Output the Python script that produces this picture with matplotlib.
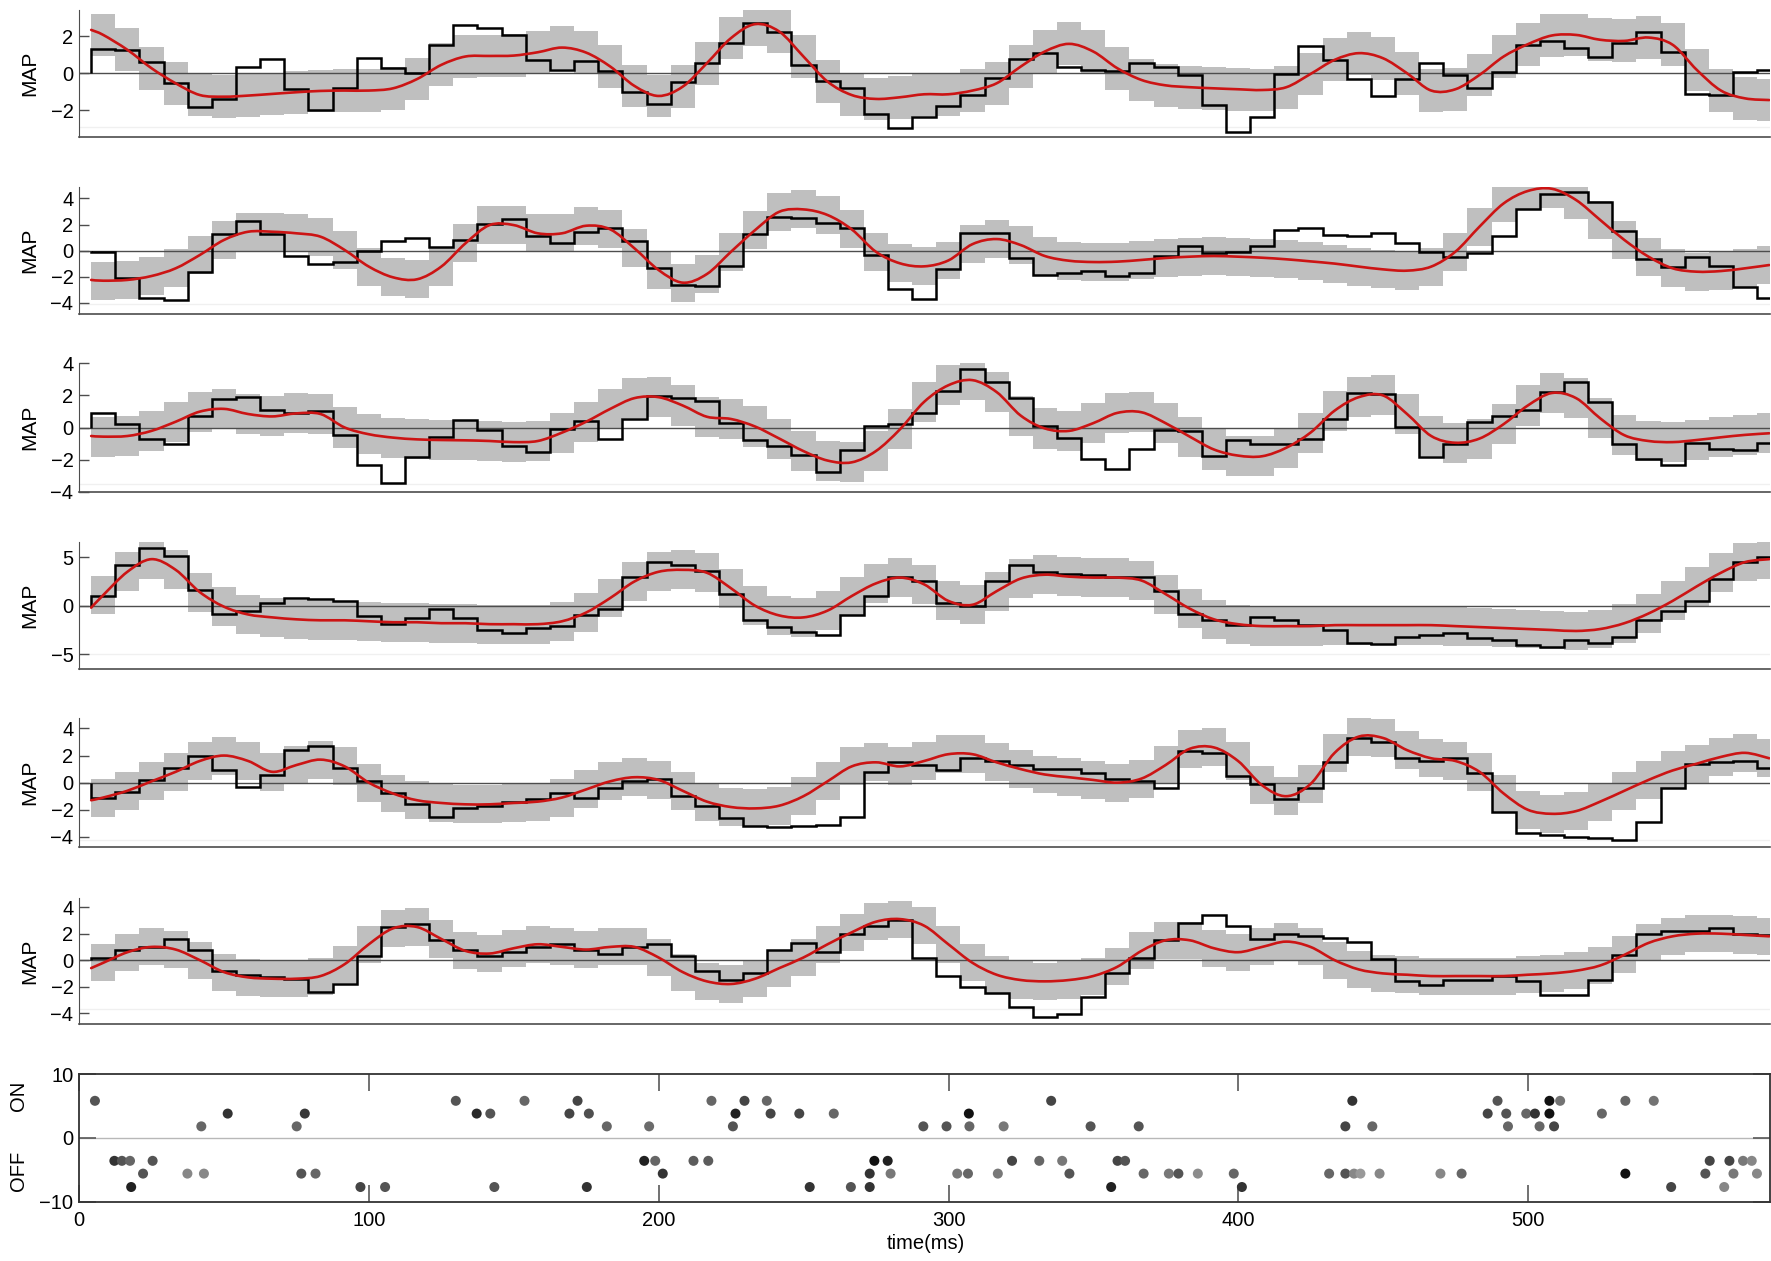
import numpy as np
import matplotlib
matplotlib.use("Agg")
import matplotlib.pyplot as plt
from matplotlib.path import Path
from matplotlib.patches import PathPatch

plt.rcParams['font.family'] = ['Liberation Sans', 'DejaVu Sans']

#
# binned MAP data: black = binned response, red = smooth estimate
#
BIN = 8.33
T0 = 4.2
NBIN = 70

black1 = [1.31, 1.26, 0.59, -0.52, -1.83, -1.40, 0.36, 0.75, -0.86, -2.0,
          -0.77, 0.84, 0.27, 0.0, 1.54, 2.57, 2.42, 2.06, 0.70, 0.20,
          0.65, 0.14, -0.99, -1.63, -0.47, 0.54, 1.65, 2.69, 2.24, 0.45,
          -0.40, -0.81, -2.19, -2.93, -2.33, -1.78, -1.17, -0.23, 0.77, 1.11,
          0.32, 0.18, 0.13, 0.54, 0.31, -0.11, -1.71, -3.14, -2.37, -0.04,
          1.44, 0.72, -0.32, -1.22, -0.29, 0.54, -0.07, -0.81, 0.07, 1.54,
          1.76, 1.38, 0.90, 1.60, 2.24, 1.13, -1.13, -1.18, 0.05, 0.20]
red1 = [2.33, 2.06, 1.26, 0.27, -0.54, -1.17, -1.26, -1.2, -1.11, -1.02, -0.95,
        -0.93, -0.93, -0.81, -0.31, 0.45, 0.90, 0.93, 0.95, 1.13, 1.38,
        1.11, 0.36, -0.68, -1.22, -0.72, 0.54, 1.89, 2.64, 2.24, 0.9,
        -0.45, -1.17, -1.38, -1.29, -1.13, -1.13, -0.93, -0.54, 0.36, 1.17,
        1.58, 1.17, 0.27, -0.36, -0.65, -0.75, -0.81, -0.86, -0.9, -0.75,
        -0.04, 0.72, 1.08, 0.81, 0.0, -0.93, -0.86, -0.09, 0.9, 1.56,
        2.03, 2.06, 1.8, 1.74, 1.92, 1.53, 0.18, -0.93, -1.35, -1.44]

black2 = [-0.13, -2.12, -3.65, -3.75, -1.66, 1.25, 2.27, 1.25, -0.43, -1.05,
          -0.84, -0.03, 0.77, 0.94, 0.26, 0.82, 2.02, 2.40, 1.12, 0.56,
          1.43, 1.73, 0.71, -1.35, -2.60, -2.70, -1.17, 1.28, 2.60, 2.53,
          2.14, 1.76, -0.33, -2.93, -3.67, -1.43, 1.33, 1.33, -0.54, -1.89,
          -1.68, -1.56, -1.91, -1.68, -0.41, 0.36, -0.20, -0.08, 0.36, 1.58,
          1.76, 1.20, 1.12, 1.38, 0.56, -0.08, -0.51, -0.20, 1.15, 3.16,
          4.31, 4.46, 3.75, 1.53, -0.66, -1.22, -0.51, -1.17, -2.81, -3.60]
red2 = [-2.24, -2.3, -2.24, -1.94, -1.35, -0.33, 0.82, 1.45, 1.45, 1.33, 1.07,
        0.05, -1.22, -2.04, -2.19, -1.22, 0.56, 1.96, 1.96, 1.33, 1.33,
        1.91, 1.63, 0.18, -1.48, -2.45, -1.79, -0.08, 1.58, 2.98, 3.16,
        2.73, 1.63, -0.08, -0.97, -1.2, -0.75, 0.5, 0.89, 0.43, -0.41,
        -0.77, -0.87, -0.84, -0.71, -0.56, -0.46, -0.41, -0.46, -0.54, -0.66,
        -0.82, -0.99, -1.22, -1.43, -1.53, -1.22, -0.08, 1.84, 3.62, 4.57,
        4.74, 3.88, 2.35, 0.82, -0.46, -1.35, -1.61, -1.56, -1.35, -1.1]

black3 = [0.91, 0.21, -0.74, -1.05, 0.74, 1.79, 1.89, 1.12, 0.88, 1.01,
          -0.46, -2.32, -3.43, -1.83, -0.57, 0.48, -0.15, -1.16, -1.54, -0.11,
          0.40, -0.69, 0.53, 1.96, 1.85, 1.62, 0.27, -0.78, -1.16, -1.71,
          -2.78, -1.43, 0.08, 0.21, 0.93, 2.25, 3.64, 2.84, 1.83, 0.11,
          -0.63, -1.96, -2.57, -1.37, -0.15, -0.21, -1.75, -0.78, -1.05, -1.01,
          -0.69, 0.53, 2.15, 2.11, 0.04, -1.83, -1.01, 0.32, 0.69, 1.09,
          2.21, 2.84, 1.58, -1.05, -1.94, -2.32, -0.99, -1.31, -1.43, -0.99]
red3 = [-0.53, -0.57, -0.53, -0.21, 0.36, 0.99, 1.16, 0.84, 0.69, 0.88, 0.84,
        0.0, -0.42, -0.63, -0.74, -0.78, -0.8, -0.84, -0.91, -0.84, -0.32,
        0.36, 1.16, 1.83, 1.89, 1.37, 0.67, 0.53, 0.06, -0.69, -1.47,
        -2.06, -2.17, -1.47, -0.11, 1.6, 2.63, 2.95, 2.21, 0.74, -0.06,
        -0.21, 0.27, 0.91, 0.95, 0.27, -0.57, -1.37, -1.75, -1.79, -1.26,
        -0.32, 1.05, 1.89, 2.0, 0.84, -0.53, -0.95, -0.69, 0.21, 1.37,
        2.15, 1.83, 0.57, -0.48, -0.84, -0.91, -0.78, -0.61, -0.46, -0.36]

black4 = [1.0, 4.2, 5.9, 5.1, 1.6, -0.8, -0.5, 0.3, 0.75, 0.7,
          0.5, -1.1, -1.9, -1.3, -0.3, -1.3, -2.5, -2.8, -2.3, -2.1,
          -1.0, -0.3, 3.0, 4.5, 4.2, 3.6, 1.2, -1.5, -2.2, -2.7,
          -3.0, -1.0, 1.0, 3.0, 2.5, 0.3, 0.0, 2.5, 4.2, 3.5,
          3.3, 3.2, 3.0, 3.0, 1.5, -0.8, -1.5, -2.0, -1.2, -1.5,
          -2.0, -2.5, -3.8, -3.9, -3.2, -3.0, -2.8, -3.3, -3.5, -4.0,
          -4.3, -3.5, -3.8, -3.2, -1.5, -0.5, 0.5, 2.8, 4.5, 5.0]
red4 = [-0.2, 1.1, 3.5, 4.8, 3.7, 1.4, -0.1, -0.9, -1.2, -1.4, -1.5,
        -1.5, -1.6, -1.7, -1.7, -1.8, -1.8, -1.9, -1.9, -1.9, -1.6,
        -0.7, 0.8, 2.5, 3.5, 3.7, 3.4, 1.8, 0.0, -1.0, -1.2,
        -0.5, 1.0, 2.3, 2.9, 2.2, 0.5, 0.1, 1.5, 2.8, 3.2,
        3.0, 2.9, 2.9, 2.6, 1.2, -0.3, -1.4, -1.9, -2.1, -2.1,
        -2.1, -2.0, -2.0, -2.0, -2.0, -2.0, -2.1, -2.2, -2.3, -2.4,
        -2.5, -2.6, -2.4, -1.8, -0.8, 0.5, 2.0, 3.4, 4.5, 4.8]

black5 = [-1.1, -0.7, 0.2, 1.1, 2.0, 0.9, -0.3, 0.6, 2.4, 2.7,
          1.1, 0.1, -0.8, -1.6, -2.5, -1.9, -1.7, -1.4, -1.2, -0.8,
          -1.1, -0.4, 0.1, 0.3, -1.0, -1.7, -2.6, -3.2, -3.3, -3.2,
          -3.1, -2.5, 0.8, 1.5, 1.3, 0.9, 1.8, 1.6, 1.3, 1.0,
          1.0, 0.7, 0.3, 0.1, -0.4, 2.3, 2.2, 0.5, -0.1, -1.2,
          -0.4, 1.5, 3.3, 3.0, 1.8, 1.6, 1.8, 0.7, -2.2, -3.7,
          -3.9, -4.0, -4.1, -4.2, -2.9, -0.4, 1.4, 1.5, 1.6, 1.1]
red5 = [-1.3, -1.1, -0.6, 0.1, 0.8, 1.6, 2.0, 1.6, 0.8, 1.3, 1.7,
        1.2, 0.0, -0.8, -1.3, -1.5, -1.6, -1.6, -1.5, -1.4, -1.1,
        -0.5, 0.1, 0.4, 0.2, -0.6, -1.4, -1.8, -1.9, -1.7, -1.0,
        0.1, 1.2, 1.5, 1.2, 1.6, 2.1, 2.1, 1.5, 1.0, 0.6,
        0.4, 0.2, 0.0, 0.3, 1.3, 2.5, 2.6, 1.6, -0.2, -1.0,
        -0.1, 2.2, 3.4, 3.3, 2.4, 1.8, 1.6, 0.8, -0.8, -2.0,
        -2.3, -2.1, -1.4, -0.6, 0.2, 0.9, 1.4, 1.9, 2.2, 1.8]

black6 = [0.2, 0.8, 1.0, 1.6, 0.8, -0.8, -1.1, -1.3, -1.4, -2.4,
          -1.8, 0.3, 2.5, 2.7, 1.5, 0.8, 0.3, 0.6, 1.0, 1.2,
          0.8, 0.5, 1.0, 1.2, 0.3, -0.8, -1.5, -1.0, 0.8, 1.3,
          0.6, 2.0, 2.6, 3.0, 0.2, -1.2, -2.0, -2.5, -3.5, -4.3,
          -4.1, -2.8, -1.0, 0.2, 1.5, 2.8, 3.4, 2.6, 1.6, 2.0,
          1.8, 1.7, 1.4, 0.1, -1.6, -1.9, -1.5, -1.5, -1.2, -1.6,
          -2.6, -2.6, -1.5, 0.4, 2.0, 2.2, 2.2, 2.4, 2.0, 1.9]
red6 = [-0.6, -0.2, 0.6, 1.0, 0.8, 0.0, -0.9, -1.3, -1.4, -1.4, -1.2,
        -0.3, 1.2, 2.4, 2.5, 1.6, 0.7, 0.5, 0.9, 1.2, 1.0,
        0.8, 1.0, 1.0, 0.2, -0.9, -1.6, -1.8, -1.4, -0.6, 0.2,
        1.2, 2.1, 2.9, 3.1, 2.6, 1.2, -0.2, -1.1, -1.5, -1.6,
        -1.5, -1.2, -0.5, 0.7, 1.5, 1.5, 0.9, 0.6, 1.0, 1.4,
        1.0, 0.0, -0.7, -1.0, -1.1, -1.2, -1.2, -1.2, -1.2, -1.1,
        -1.0, -0.8, -0.4, 0.4, 1.3, 1.8, 2.0, 2.0, 1.9, 1.8]

blacks = [black1, black2, black3, black4, black5, black6]
reds = [red1, red2, red3, red4, red5, red6]
band_hw = [1.15, 1.45, 1.25, 2.0, 1.4, 1.4]
floor_line = [-2.87, -4.1, -3.54, -4.97, -4.25, -3.7]
ylims = [(-3.41, 3.4), (-4.85, 4.9), (-4.0, 4.0), (-6.55, 6.6), (-4.75, 4.75), (-4.85, 4.7)]
yticks = [[-2, 0, 2], [-4, -2, 0, 2, 4], [-4, -2, 0, 2, 4], [-5, 0, 5],
          [-4, -2, 0, 2, 4], [-4, -2, 0, 2, 4]]

# spike raster: rows and (time, gray level) of each dot
row_levels = [5.8, 3.8, 1.8, -3.6, -5.6, -7.7]
row_times = [
    [5.5, 130, 153.7, 172, 218.2, 229.6, 237.3, 335.4, 439.3, 489.4, 507.3, 511, 533.5, 543.3],
    [51.3, 77.9, 137.2, 141.9, 169.2, 175.9, 226.5, 238.6, 248.5, 260.4, 307, 486, 492.4,
     499.3, 502.3, 507.3, 525.4],
    [42.2, 75.1, 182.1, 196.7, 225.6, 291.3, 299.3, 307.2, 319, 349, 365.6, 436.9, 446.2,
     493, 503.9, 508.9],
    [12.2, 14.8, 17.6, 25.4, 195, 198.8, 212, 217.1, 274.4, 279, 321.9, 331.3, 339.2,
     358.3, 360.9, 562.6, 569.4, 574.1, 577.1],
    [22.1, 37.4, 43.1, 76.7, 81.6, 201.4, 272.8, 280, 303, 306.7, 317, 341.7, 367.3, 376,
     379.3, 386, 398.4, 431.3, 436.9, 439.9, 442.1, 448.7, 469.7, 477, 533.5, 561.1, 570.8, 578.9],
    [18, 97.1, 105.6, 143.3, 175.2, 252.1, 266.3, 272.8, 356.1, 401.2, 549.3, 567.6],
]
row_grays = [
    [.33, .33, .4, .27, .4, .27, .4, .27, .2, .33, .07, .45, .4, .45],
    [.2, .22, .16, .33, .27, .31, .13, .27, .27, .4, .07, .27, .33, .4, .2, .07, .4],
    [.4, .4, .4, .42, .33, .33, .33, .4, .47, .33, .33, .27, .4, .4, .4, .27],
    [.2, .33, .4, .33, .13, .4, .36, .36, .07, .13, .27, .4, .47, .27, .33, .27, .27, .47, .53],
    [.33, .53, .53, .33, .4, .2, .2, .47, .47, .4, .47, .33, .4, .47, .33, .55, .4, .4, .33,
     .53, .6, .53, .53, .4, .07, .33, .47, .53],
    [.13, .27, .33, .33, .2, .2, .33, .2, .13, .2, .27, .53],
]

edges = T0 + BIN * np.arange(NBIN + 1)
centers = edges[:-1] + BIN / 2
red_x = np.r_[edges[0], centers]
XMAX = 583.4
FS = 14.5


def smooth_path(x, y):
    # catmull-rom through the read points, drawn as bezier segments
    p = np.column_stack([x, y])
    q = np.vstack([p[0], p, p[-1]])
    verts = [p[0]]
    codes = [Path.MOVETO]
    for i in range(1, len(q) - 2):
        c1 = q[i] + (q[i + 1] - q[i - 1]) / 6
        c2 = q[i + 1] - (q[i + 2] - q[i]) / 6
        verts += [c1, c2, q[i + 1]]
        codes += [Path.CURVE4] * 3
    return Path(verts, codes)


W, H = 1771., 1261.
LEFT = 79 / W
WIDTH = (1770 - 79) / W
tops = [10, 186.7, 363.3, 541.7, 718.3, 897.9]
bots = [136.7, 314, 491.7, 669.3, 847, 1024.4]

fig = plt.figure(figsize=(W / 100, H / 100), dpi=100)

for i in range(6):
    ax = fig.add_axes([LEFT, 1 - bots[i] / H, WIDTH, (bots[i] - tops[i]) / H])
    red = np.array(reds[i])
    mid = red[1:]
    ax.stairs(mid + band_hw[i], edges, baseline=mid - band_hw[i], fill=True,
              color='#bfbfbf', lw=0, zorder=1)
    ax.axhline(floor_line[i], color='0.94', lw=1, zorder=0.5)
    ax.axhline(0, color='0.3', lw=1, zorder=2)
    ax.stairs(blacks[i], edges, baseline=0, color='k', lw=1.8, zorder=3)
    ax.add_patch(PathPatch(smooth_path(red_x, red), fill=False, edgecolor='#cc1414',
                           lw=1.9, zorder=4, capstyle='round', joinstyle='round'))
    ax.set_xlim(0, XMAX)
    ax.set_ylim(*ylims[i])
    ax.set_xticks([])
    ax.set_yticks(yticks[i])
    for s in ['top', 'right']:
        ax.spines[s].set_visible(False)
    ax.spines['left'].set_color('0.3')
    ax.spines['bottom'].set_color('0.3')
    ax.spines['bottom'].set_linewidth(1.2)
    ax.tick_params(axis='y', direction='in', length=7, width=1, color='0.3',
                   labelsize=FS, pad=4)
    ax.text(-0.0293, 0.5, 'MAP', transform=ax.transAxes, rotation=90,
            ha='center', va='center', fontsize=FS + 0.5)

# raster panel
ax = fig.add_axes([LEFT, 1 - 1201.7 / H, WIDTH, (1201.7 - 1074) / H])
ax.axhline(0, color='0.72', lw=1, zorder=1)
for lev, ts, gs in zip(row_levels, row_times, row_grays):
    ax.scatter(ts, [lev] * len(ts), s=52, c=[str(g) for g in gs],
               edgecolors='none', zorder=3)
ax.set_xlim(0, XMAX)
ax.set_ylim(-10, 10)
ax.set_xticks(range(0, 600, 100))
ax.set_yticks([-10, 0, 10])
for s in ax.spines.values():
    s.set_color('0.2')
    s.set_linewidth(1.3)
ax.tick_params(direction='in', length=12, width=1.2, color='0.35', top=True, right=True,
               labelsize=FS)
ax.tick_params(axis='x', pad=7)
ax.tick_params(axis='y', pad=4)
ax.text(-0.036, 6.6, 'ON', transform=ax.get_yaxis_transform(), rotation=90,
        ha='center', va='center', fontsize=FS)
ax.text(-0.036, -5.2, 'OFF', transform=ax.get_yaxis_transform(), rotation=90,
        ha='center', va='center', fontsize=FS)
fig.text(926 / W, 1 - 1243.6 / H, 'time(ms)', ha='center', va='center', fontsize=FS)

fig.savefig('out.png', dpi=100)
